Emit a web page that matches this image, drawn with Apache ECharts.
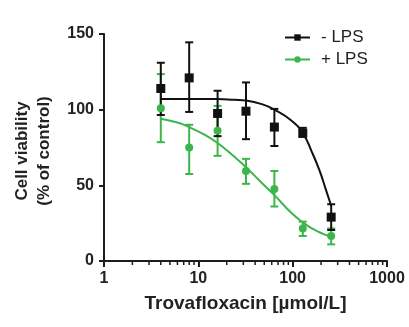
<!DOCTYPE html>
<html><head><meta charset="utf-8">
<script src="https://cdn.jsdelivr.net/npm/echarts@6/dist/echarts.min.js"></script>
<style>html,body{margin:0;padding:0;background:#fff}#c{width:409px;height:327px}</style>
</head><body><div id="c"></div>
<script>
// Concentrations (µmol/L)
const conc = [4, 8, 16, 32, 64, 128, 256];
// - LPS: mean, upper, lower error bar ends
const minusMean  = [114, 121, 97.5, 99, 88.5, 84.5, 29];
const minusUpper = [131, 144.5, 112.5, 118, 100.5, 88, 37.5];
const minusLower = [96.5, 98.5, 82.5, 80.5, 76, 82, 20.5];
// + LPS
const plusMean  = [101, 75, 86, 59.5, 47.5, 21.5, 16.5];
const plusUpper = [123.5, 90, 102.5, 67.5, 59.5, 26, 21.5];
const plusLower = [78.5, 57.5, 69.5, 51, 36, 16.5, 11];
// Fitted curves
const curveX     = [4, 6, 8, 12, 16, 24, 32, 48, 64, 96, 128, 160, 192, 224, 256];
const minusCurve = [107, 107, 107, 107, 107, 106.5, 106, 103.5, 100, 93, 84.5, 72, 60, 47.5, 36.5];
const plusCurve  = [94, 91.5, 88.5, 83, 78, 69, 62, 51, 43.5, 32, 25.5, 21.5, 19, 17.3, 16];
// Axis
const xTicks = [1, 10, 100, 1000];
const minorTicks = [2,3,4,5,6,7,8,9,20,30,40,50,60,70,80,90,200,300,400,500,600,700,800,900];
const yTicks = [0, 50, 100, 150];

const BLACK = '#111111', GREEN = '#3cb54a', AX = '#1e1e1e';
const FONT = '"Liberation Sans", Arial, sans-serif';

function zip(a, b) { return a.map((v, i) => [v, b[i]]); }
function errData(lo, hi) { return conc.map((c, i) => [c, lo[i], hi[i]]); }
function errRender(color) {
  return function (params, api) {
    const lo = api.coord([api.value(0), api.value(1)]);
    const hi = api.coord([api.value(0), api.value(2)]);
    const w = 4;
    const st = { stroke: color, lineWidth: 2 };
    return { type: 'group', children: [
      { type: 'line', shape: { x1: lo[0], y1: lo[1], x2: hi[0], y2: hi[1] }, style: st },
      { type: 'line', shape: { x1: lo[0]-w, y1: lo[1], x2: lo[0]+w, y2: lo[1] }, style: st },
      { type: 'line', shape: { x1: hi[0]-w, y1: hi[1], x2: hi[0]+w, y2: hi[1] }, style: st }
    ]};
  };
}

const chart = echarts.init(document.getElementById('c'));
chart.setOption({
  animation: false,
  backgroundColor: '#fff',
  textStyle: { fontFamily: FONT },
  grid: { left: 104, right: 22, top: 34, bottom: 66 },
  legend: {
    orient: 'vertical', left: 279, top: 24, itemWidth: 25, itemHeight: 8, itemGap: 5,
    data: ['- LPS', '+ LPS'],
    textStyle: { fontSize: 17, color: '#222', fontFamily: FONT, padding: [0, 0, 0, 6] }
  },
  xAxis: {
    type: 'log', logBase: 10, min: xTicks[0], max: xTicks[xTicks.length - 1],
    name: 'Trovafloxacin [µmol/L]', nameLocation: 'middle', nameGap: 33,
    nameTextStyle: { fontSize: 19, fontWeight: 'bold', color: '#222', fontFamily: FONT },
    axisLine: { lineStyle: { color: AX, width: 2 } },
    axisTick: { show: true, length: 6, lineStyle: { color: AX, width: 2 } },
    axisLabel: { fontSize: 16, fontWeight: 'bold', color: '#222', margin: 10, formatter: v => String(v) },
    splitLine: { show: false }
  },
  yAxis: {
    type: 'value', min: yTicks[0], max: yTicks[yTicks.length - 1], interval: 50,
    name: 'Cell viability\n(% of control)', nameLocation: 'middle', nameGap: 49, nameRotate: 90,
    nameTextStyle: { fontSize: 17, fontWeight: 'bold', color: '#222', lineHeight: 22, fontFamily: FONT, padding: [0, 0, 0, -7] },
    axisLine: { show: true, lineStyle: { color: AX, width: 2 } },
    axisTick: { show: true, length: 5, lineStyle: { color: AX, width: 2 } },
    axisLabel: { fontSize: 16, fontWeight: 'bold', color: '#222', margin: 10 },
    splitLine: { show: false }
  },
  series: [
    {
      type: 'custom', name: 'minor', silent: true, clip: false,
      data: minorTicks.map(v => [v, 0]),
      renderItem: function (params, api) {
        const p = api.coord([api.value(0), 0]);
        return { type: 'line', shape: { x1: p[0], y1: p[1], x2: p[0], y2: p[1] + 4 },
                 style: { stroke: AX, lineWidth: 1.5 } };
      }
    },
    { type: 'custom', name: 'errPlus', data: errData(plusLower, plusUpper), renderItem: errRender(GREEN), clip: false, z: 2 },
    { type: 'custom', name: 'errMinus', data: errData(minusLower, minusUpper), renderItem: errRender(BLACK), clip: false, z: 3 },
    {
      type: 'line', name: '+ LPS', data: zip(curveX, plusCurve), smooth: true, showSymbol: false,
      symbol: 'circle', symbolSize: 8, color: GREEN, lineStyle: { color: GREEN, width: 2 }, z: 4
    },
    {
      type: 'line', name: '- LPS', data: zip(curveX, minusCurve), smooth: true, showSymbol: false,
      symbol: 'rect', symbolSize: 8, color: BLACK, lineStyle: { color: BLACK, width: 2 }, z: 5
    },
    { type: 'scatter', name: 'pPlus', data: zip(conc, plusMean), symbol: 'circle', symbolSize: 8, itemStyle: { color: GREEN, opacity: 1 }, z: 6 },
    { type: 'scatter', name: 'pMinus', data: zip(conc, minusMean), symbol: 'rect', symbolSize: 9, itemStyle: { color: BLACK, opacity: 1 }, z: 7 }
  ]
});
</script>
</body></html>
